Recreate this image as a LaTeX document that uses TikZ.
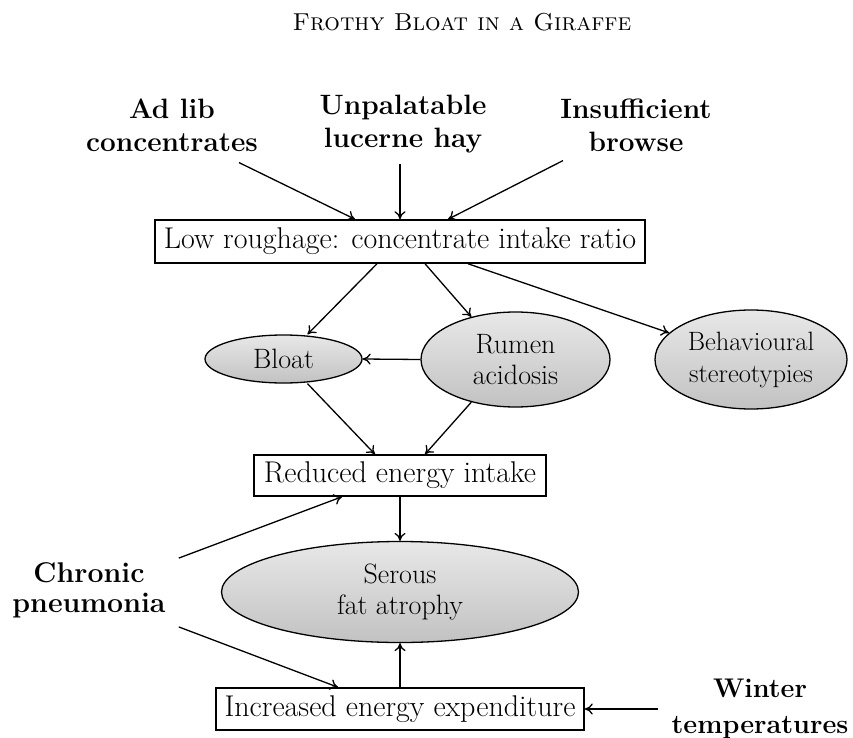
\documentclass[tikz,border=0pt]{standalone}
\usetikzlibrary{shapes.geometric,arrows.meta}
\begin{document}
\begin{tikzpicture}[x=1pt,y=-1pt,
  boxnode/.style={draw,line width=1.5pt,inner sep=0pt,align=center,
    font=\fontsize{30}{34}\selectfont},
  ellnode/.style={ellipse,draw,line width=1.3pt,inner sep=0pt,align=center,
    top color=gray!18,bottom color=gray!48,font=\fontsize{28}{31}\selectfont},
  cause/.style={align=center,inner sep=0pt,font=\fontsize{28}{33}\selectfont\bfseries},
  arr/.style={-{To[length=8pt,width=11pt]},line width=1.3pt}]
\useasboundingbox (0,0) rectangle (853,738);
\node[font=\fontsize{24.5}{28}\selectfont\scshape] (title) at (462,22) {Frothy Bloat in a Giraffe};
\node[cause] (adlib) at (172,125) {Ad lib\\concentrates};
\node[cause] (unpal) at (403,124) {Unpalatable\\lucerne hay};
\node[cause] (insuf) at (636,125) {Insufficient\\browse};
\node[boxnode,minimum width=490pt,minimum height=43pt] (low) at (400,241.5) {Low roughage: concentrate intake ratio};
\node[ellnode,minimum width=157pt,minimum height=48pt] (bloat) at (283.5,359) {Bloat};
\node[ellnode,minimum width=189pt,minimum height=95pt] (rumen) at (515.5,359.5) {Rumen\\acidosis};
\node[ellnode,minimum width=192pt,minimum height=99pt,font=\fontsize{26.5}{32}\selectfont] (behav) at (751,359.5) {Behavioural\\stereotypies};
\node[boxnode,minimum width=292pt,minimum height=41pt] (red) at (400,475.5) {Reduced energy intake};
\node[ellnode,minimum width=357pt,minimum height=101pt] (serous) at (400,592) {Serous\\fat atrophy};
\node[boxnode,minimum width=368pt,minimum height=42pt] (inc) at (400,709) {Increased energy expenditure};
\node[cause,font=\fontsize{28.5}{30}\selectfont\bfseries] (chron) at (89,590) {Chronic\\pneumonia};
\node[cause,font=\fontsize{27}{36}\selectfont\bfseries] (winter) at (760,709) {Winter\\temperatures};
% top arrows
\draw[arr] ([shift={(67,11)}]adlib.south) -- ([xshift=-45pt]low.north);
\draw[arr] ([shift={(-3,11)}]unpal.south) -- (low.north);
\draw[arr] ([shift={(-73,9)}]insuf.south) -- ([xshift=48pt]low.north);
% from low
\draw[arr] ([xshift=-23pt]low.south) -- ([xshift=24pt]bloat.north);
\draw[arr] ([xshift=25pt]low.south) -- (rumen.136);
\draw[arr] ([xshift=68pt]low.south) -- (behav.162);
\draw[arr] (rumen.west) -- (bloat.east);
% to reduced
\draw[arr] ([xshift=24pt]bloat.south) -- ([xshift=-25pt]red.north);
\draw[arr] (rumen.224) -- ([xshift=25pt]red.north);
\draw[arr] (red.south) -- (serous.north);
\draw[arr] (inc.north) -- (serous.south);
% chronic pneumonia
\draw[arr] ([shift={(13,-4)}]chron.north east) -- ([xshift=-58pt]red.south);
\draw[arr] ([shift={(13,9)}]chron.south east) -- ([xshift=-62pt]inc.north);
\draw[arr] ([xshift=-13pt]winter.west) -- (inc.east);
\end{tikzpicture}
\end{document}
